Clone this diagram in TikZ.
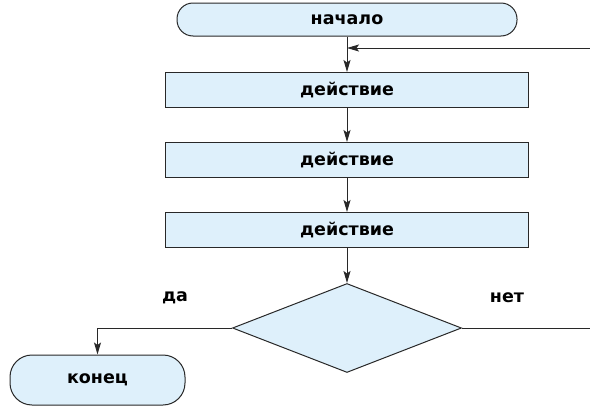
\documentclass[tikz,border=0pt]{standalone}
\usepackage{fontspec}
\setmainfont{DejaVu Sans}
\usetikzlibrary{shapes.geometric,arrows.meta}
\definecolor{boxfill}{RGB}{222,240,251}
\definecolor{linegray}{RGB}{40,40,40}
\tikzset{
	block/.style={draw=linegray,fill=boxfill,line width=1pt,minimum width=363pt,minimum height=35pt,inner sep=0pt,font=\fontsize{17.5}{20}\selectfont\bfseries},
	terminal/.style={block,rounded corners=16pt},
	decision/.style={diamond,draw=linegray,fill=boxfill,line width=1pt,minimum width=229pt,minimum height=89pt,aspect=2.57,inner sep=0pt},
	flow/.style={draw=linegray,line width=1pt,-{Stealth[length=12pt,width=7pt,inset=2.5pt]}},
	lbl/.style={font=\fontsize{17.5}{20}\selectfont\bfseries}
}
\begin{document}
\begin{tikzpicture}[
	x=1pt,y=1pt
	]
	\useasboundingbox (0,0) rectangle (590,-407);
	
	\node[terminal,minimum width=340pt,minimum height=33pt] (start) at (347,-19.5) {начало};
	\node[block] (act1) at (347,-90) {действие};
	\node[block] (act2) at (347,-160) {действие};
	\node[block] (act3) at (347,-230) {действие};
	\node[decision] (cond) at (347,-328) {};
	\node[terminal,minimum width=175pt,minimum height=50pt,rounded corners=22pt] (stop) at (97.5,-380) {конец};
	
	\coordinate (back) at (590,-48);
	\coordinate (exit) at (590,-328);
	
	\draw[flow] (start) -- (act1);
	\draw[flow] (back) -- (back -| start.south);
	\draw[flow] (act1) -- (act2);
	\draw[flow] (act2) -- (act3);
	\draw[flow] (act3) -- (cond);
	\draw[flow] (cond.west) -| (stop.north);
	\draw[draw=linegray,line width=1pt] (cond.east) -- (exit);
	
	\node[lbl] (yes) at (175,-298) {да};
	\node[lbl] (no) at (507,-298) {нет};
\end{tikzpicture}
\end{document}
